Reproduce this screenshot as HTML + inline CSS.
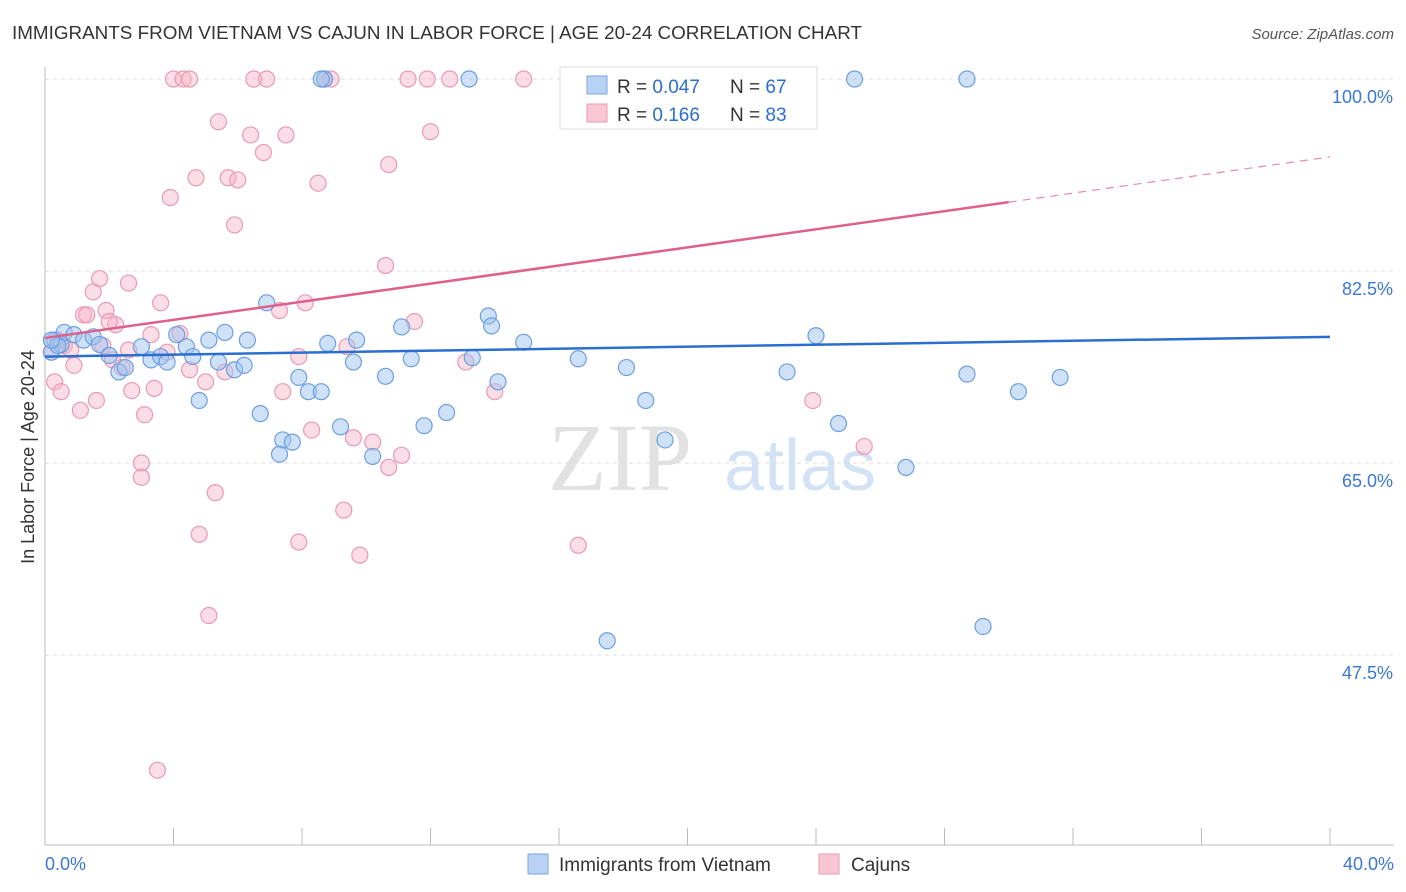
<!DOCTYPE html>
<html><head><meta charset="utf-8">
<style>
body{margin:0;background:#fff;font-family:"Liberation Sans",sans-serif;}
#wrap{position:relative;width:1406px;height:892px;overflow:hidden;}
</style></head>
<body>
<div id="wrap">
<svg id="svg" width="1406" height="892" xmlns="http://www.w3.org/2000/svg">
<text x="12" y="39" font-size="18" fill="#333" textLength="850" lengthAdjust="spacingAndGlyphs">IMMIGRANTS FROM VIETNAM VS CAJUN IN LABOR FORCE | AGE 20-24 CORRELATION CHART</text>
<text x="1394" y="39" font-size="15" fill="#555" font-style="italic" text-anchor="end">Source: ZipAtlas.com</text>
<text x="34" y="457" font-size="18" fill="#333" text-anchor="middle" transform="rotate(-90 34 457)">In Labor Force | Age 20-24</text>
<text x="620" y="490" font-size="96" fill="#e2e2e2" font-family="Liberation Serif,serif" text-anchor="middle">ZIP</text>
<text x="800" y="490" font-size="72" fill="#d3e3f5" text-anchor="middle">atlas</text>
<g id="grid"></g><g id="marks"></g>
<g>
<rect x="560" y="67" width="257" height="62" fill="#fff" stroke="#ddd"/>
<rect x="587" y="76" width="20" height="18" fill="#b8d2f4" stroke="#7aa7e0"/>
<rect x="587" y="104" width="20" height="18" fill="#f8c6d5" stroke="#e89ab4"/>
<text x="617" y="93" font-size="19" fill="#333">R = <tspan fill="#2a6fd0">0.047</tspan></text>
<text x="730" y="93" font-size="19" fill="#333">N = <tspan fill="#2a6fd0">67</tspan></text>
<text x="617" y="121" font-size="19" fill="#333">R = <tspan fill="#2a6fd0"> 0.166</tspan></text>
<text x="730" y="121" font-size="19" fill="#333">N = <tspan fill="#2a6fd0">83</tspan></text>
</g>
<g>
<rect x="528" y="854" width="20" height="20" fill="#b8d2f4" stroke="#7aa7e0"/>
<text x="559" y="871" font-size="19" fill="#333">Immigrants from Vietnam</text>
<rect x="819" y="854" width="20" height="20" fill="#f8c6d5" stroke="#e89ab4"/>
<text x="851" y="871" font-size="19" fill="#333">Cajuns</text>
</g>
</svg>
</div>
<script>
const yTicks=[100,82.5,65,47.5];
const yTickLabels=["100.0%","82.5%","65.0%","47.5%"];
const xTickLabels=["0.0%","40.0%"];
const blueX=[0.2,0.3,0.5,0.6,0.9,1.2,1.5,1.7,2.0,2.3,2.5,3.0,3.3,3.6,3.8,4.1,4.4,4.6,4.8,5.1,5.4,5.6,5.9,6.2,6.3,6.7,6.9,7.4,7.3,7.7,7.9,8.2,8.6,8.8,9.2,9.6,9.7,10.2,10.6,11.1,11.4,11.8,12.5,13.3,13.8,13.9,14.1,14.9,16.6,17.5,18.1,18.7,19.3,23.1,24.0,24.7,26.8,28.7,29.2,30.3,31.6,13.2,25.2,28.7,8.7,8.6,0.4,0.2];
const blueY=[75.1,76.2,75.8,76.9,76.7,76.2,76.5,75.8,74.8,73.3,73.7,75.6,74.4,74.7,74.2,76.7,75.6,74.7,70.7,76.2,74.2,76.9,73.5,73.9,76.2,69.5,79.6,67.1,65.8,66.9,72.8,71.5,71.5,75.9,68.3,74.2,76.2,65.6,72.9,77.4,74.5,68.4,69.6,74.6,78.4,77.5,72.4,76.0,74.5,48.8,73.7,70.7,67.1,73.3,76.6,68.6,64.6,73.1,50.1,71.5,72.8,100,100,100,100,100,75.7,76.2];
const pinkX=[0.2,0.3,0.5,0.6,0.8,0.9,1.1,1.2,1.3,1.5,1.6,1.7,1.8,1.9,2.1,2.2,2.4,2.6,2.7,3.0,3.0,3.1,3.3,3.4,3.5,3.6,3.8,3.9,4.0,4.2,4.3,4.5,4.5,4.7,4.8,5.0,5.1,5.3,5.4,5.6,5.7,5.9,6.0,6.4,6.5,6.8,6.9,7.3,7.4,7.5,7.9,7.9,8.1,8.3,8.5,8.7,8.9,9.3,9.4,9.6,9.8,10.2,10.6,10.7,10.7,11.1,11.3,11.5,11.9,12.0,12.6,13.1,14.0,14.9,16.6,22.3,23.9,25.5,2.0,0.4,2.6];
const pinkY=[75.1,72.4,71.5,75.7,75.3,73.9,69.8,78.5,78.5,80.6,70.7,81.8,75.7,78.9,74.4,77.6,73.7,81.4,71.6,65.0,63.7,69.4,76.7,71.8,37.0,79.6,75.1,89.2,100,76.8,100,100,73.5,91.0,58.5,72.4,51.1,62.3,96.1,73.3,91.0,86.7,90.8,94.9,100,93.3,100,78.9,71.5,94.9,57.8,74.7,79.6,68.0,90.5,100,100,60.7,75.6,67.3,56.6,66.9,83.0,92.2,64.6,65.7,100,77.9,100,95.2,100,74.2,71.5,100,57.5,100,70.7,66.5,77.9,76.2,75.3];
const blueTrend=[74.7,76.5];
const pinkTrend=[76.4,92.9];
const pinkSolidEnd=30;

const NS="http://www.w3.org/2000/svg";
const X0=45,X1=1330,Y100=79,PXPER=192/17.5;
function sx(v){return X0+(v/40)*(X1-X0);}
function sy(v){return Y100+(100-v)*PXPER;}
function mk(tag,attrs,parent){const e=document.createElementNS(NS,tag);for(const k in attrs)e.setAttribute(k,attrs[k]);parent.appendChild(e);return e;}
const grid=document.getElementById('grid'),marks=document.getElementById('marks');
yTicks.forEach((t,i)=>{
 const l=mk('line',{x1:X0,x2:1394,y1:sy(t),y2:sy(t),stroke:'#ddd','stroke-dasharray':'4,4'},grid);
 
 
 const tx=mk('text',{x:1393,y:sy(t)+24,'font-size':18,fill:'#3a78d4','text-anchor':'end'},grid);
 tx.textContent=yTickLabels[i];
 
 
});
const ax=mk('line',{x1:X0,x2:1394,y1:845,y2:845,stroke:'#bbb'},grid);


const ay=mk('line',{x1:X0,x2:X0,y1:67,y2:845,stroke:'#bbb'},grid);


for(let i=0;i<=10;i++){
 const t=mk('line',{x1:sx(i*4),x2:sx(i*4),y1:828,y2:845,stroke:'#bbb'},grid);
 
 
}
[[0,'start',45],[40,'end',1394]].forEach((d,i)=>{
 const tx=mk('text',{x:d[2],y:870,'font-size':18,fill:'#3a78d4','text-anchor':d[1]},grid);
 tx.textContent=xTickLabels[i];
 
 
});
function pts(xs,ys,fill,stroke,name){
 xs.forEach((x,i)=>{
  const c=mk('circle',{cx:sx(x),cy:sy(ys[i]),r:8,fill:fill,stroke:stroke,'stroke-width':1.2},marks);
  
  
 });
}
pts(pinkX,pinkY,'rgba(246,180,200,0.45)','#e89ab4','cajun-point');
pts(blueX,blueY,'rgba(160,196,240,0.5)','#6d9fe0','vietnam-point');
const bl=mk('line',{x1:sx(0),y1:sy(blueTrend[0]),x2:sx(40),y2:sy(blueTrend[1]),stroke:'#2a6fd0','stroke-width':2.5},marks);


const pm=pinkTrend[0]+(pinkTrend[1]-pinkTrend[0])*pinkSolidEnd/40;
const pl=mk('line',{x1:sx(0),y1:sy(pinkTrend[0]),x2:sx(pinkSolidEnd),y2:sy(pm),stroke:'#e0608c','stroke-width':2.5},marks);


const pd=mk('line',{x1:sx(pinkSolidEnd),y1:sy(pm),x2:sx(40),y2:sy(pinkTrend[1]),stroke:'#e88aa8','stroke-width':1.2,'stroke-dasharray':'8,6'},marks);


</script>
</body></html>
